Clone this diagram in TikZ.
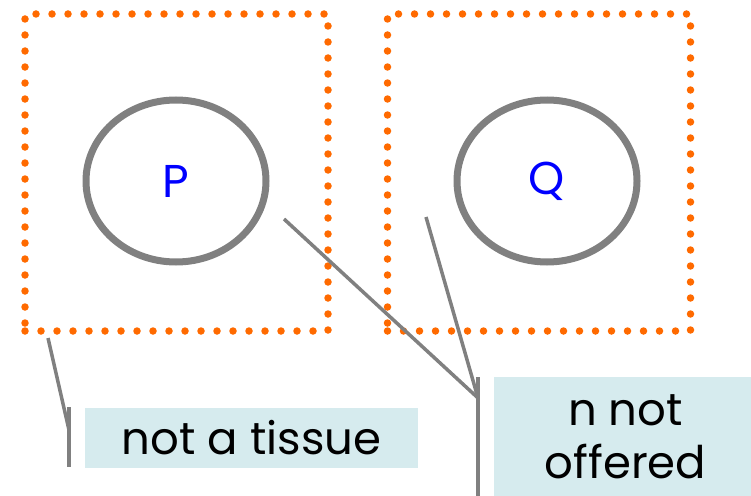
\documentclass[tikz,border=0pt]{standalone}
\usepackage{fontspec}
\setmainfont{Poppins}
\usetikzlibrary{shapes.geometric}

\definecolor{dotorange}{HTML}{FF6A00}
\definecolor{leadgray}{HTML}{808080}
\definecolor{notefill}{HTML}{D6EBEE}
\definecolor{letterblue}{HTML}{0000FF}

\tikzset{
  cell/.style={draw=dotorange, line width=7.5pt, line cap=round,
    dash pattern=on 0pt off 16pt, minimum width=303pt, minimum height=317pt, inner sep=0pt},
  blob/.style={ellipse, draw=leadgray, line width=7pt, minimum width=180pt,
    minimum height=162pt, inner sep=0pt, text=letterblue, font=\fontsize{46}{52}\selectfont},
  note/.style={fill=notefill, inner sep=0pt, align=center, font=\fontsize{45}{53}\selectfont},
  lead/.style={draw=leadgray, line width=3.5pt},
}

\begin{document}
\begin{tikzpicture}[x=1pt, y=-1pt]
    \useasboundingbox (0,0) rectangle (751,495);

    % --- the two squares ---
    \node[cell] (left) at (176.5,172.5) {};
    \node[cell] (right) at (539,172.5) {};
    \node[blob] (P) at (176,181) {P};
    \node[blob] (Q) at (547,181) {Q};

    % --- notes ---
    \node[note, minimum width=333pt, minimum height=60pt] (tissue) at (251.5,437.5) {not a tissue};
    \node[note, minimum width=263pt, minimum height=120pt] (offered) at (625.5,437) {n not\\offered};

    % --- leaders ---
    \coordinate (tissueTip) at (48,338);
    \coordinate (tissueKnee) at (69,430);
    \coordinate (tissueTop) at (69,407);
    \coordinate (tissueBot) at (69,467);
    \draw[lead] (tissueTip) -- (tissueKnee);
    \draw[lead] (tissueTop) -- (tissueBot);

    \coordinate (offeredTipA) at (284,219);
    \coordinate (offeredTipB) at (426,217);
    \coordinate (offeredKnee) at (478,398);
    \coordinate (offeredTop) at (478,377);
    \coordinate (offeredBot) at (478,497);
    \draw[lead] (offeredTipA) -- (offeredKnee);
    \draw[lead] (offeredTipB) -- (offeredKnee);
    \draw[lead] (offeredTop) -- (offeredBot);
\end{tikzpicture}
\end{document}
